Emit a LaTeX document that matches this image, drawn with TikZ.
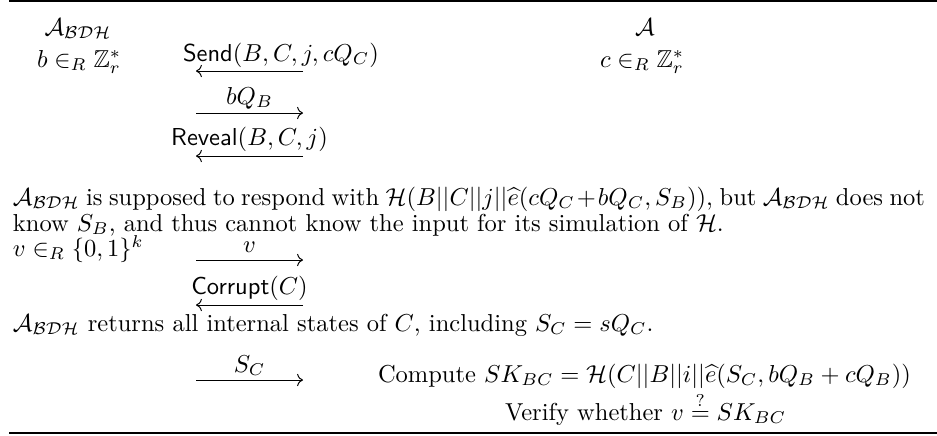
\documentclass[tikz,border=0pt]{standalone}
\usepackage{amsmath,amssymb}
\usetikzlibrary{arrows.meta}
\begin{document}
\begin{tikzpicture}[x=0.40816pt,y=-0.40816pt,
  txt/.style={inner sep=0pt,outer sep=0pt,anchor=base},
  txtl/.style={inner sep=0pt,outer sep=0pt,anchor=base west},
  msg/.style={line width=0.4pt,-{Computer Modern Rightarrow[length=2.4pt,width=5pt]}},
  hrule/.style={line width=0.8pt}]
\useasboundingbox (0,0) rectangle (937,435);
% rules
\coordinate (tl) at (9,1.2); \coordinate (tr) at (937,1.2);
\coordinate (bl) at (9,433); \coordinate (br) at (937,433);
\draw[hrule] (tl) -- (tr);
\draw[hrule] (bl) -- (br);
% headers
\node[txt] (pa) at (78,35) {$\mathcal{A}_{\mathcal{BDH}}$};
\node[txt] (pb) at (645,35) {$\mathcal{A}$};
\node[txtl] (bsel) at (37,67) {$b\in_R\mathbb{Z}_r^*$};
\node[txtl] (csel) at (600,67) {$c\in_R\mathbb{Z}_r^*$};
% Send
\node[txtl] (send) at (183,61) {$\textsf{Send}(B,C,j,cQ_C)$};
\coordinate (a1l) at (196,71); \coordinate (a1r) at (303,71);
\draw[msg] (a1r) -- (a1l);
% bQ_B
\node[txt] (bq) at (249.5,104) {$bQ_B$};
\coordinate (a2l) at (196,113); \coordinate (a2r) at (303,113);
\draw[msg] (a2l) -- (a2r);
% Reveal
\node[txt] (rev) at (249.5,145) {$\textsf{Reveal}(B,C,j)$};
\coordinate (a3l) at (196,156); \coordinate (a3r) at (303,156);
\draw[msg] (a3r) -- (a3l);
% paragraph
\node[txtl] (p1) at (13,205) {\makebox[372.2pt][s]{$\mathcal{A}_{\mathcal{BDH}}$ is supposed to respond with $\mathcal{H}(B||C||j||\widehat{e}(cQ_C+bQ_C,S_B))$, but $\mathcal{A}_{\mathcal{BDH}}$ does not}};
\node[txtl] (p2) at (13,231) {know $S_B$, and thus cannot know the input for its simulation of $\mathcal{H}$.};
% v
\node[txtl] (vsel) at (13,256) {$v\in_R\{0,1\}^k$};
\node[txt] (vl) at (249.5,252) {$v$};
\coordinate (a4l) at (196,260); \coordinate (a4r) at (303,260);
\draw[msg] (a4l) -- (a4r);
% Corrupt
\node[txt] (cor) at (249.5,294) {$\textsf{Corrupt}(C)$};
\coordinate (a5l) at (196,305); \coordinate (a5r) at (303,305);
\draw[msg] (a5r) -- (a5l);
% returns
\node[txtl] (p3) at (13,331) {$\mathcal{A}_{\mathcal{BDH}}$ returns all internal states of $C$, including $S_C=sQ_C$.};
% S_C
\node[txt] (sc) at (249.5,372) {$S_C$};
\coordinate (a6l) at (196,380); \coordinate (a6r) at (303,380);
\draw[msg] (a6l) -- (a6r);
\node[txtl] (comp) at (378,382) {Compute $SK_{BC}=\mathcal{H}(C||B||i||\widehat{e}(S_C,bQ_B+cQ_B))$};
\node[txtl] (ver) at (505,420) {Verify whether $v\stackrel{?}{=}SK_{BC}$};
\end{tikzpicture}
\end{document}
